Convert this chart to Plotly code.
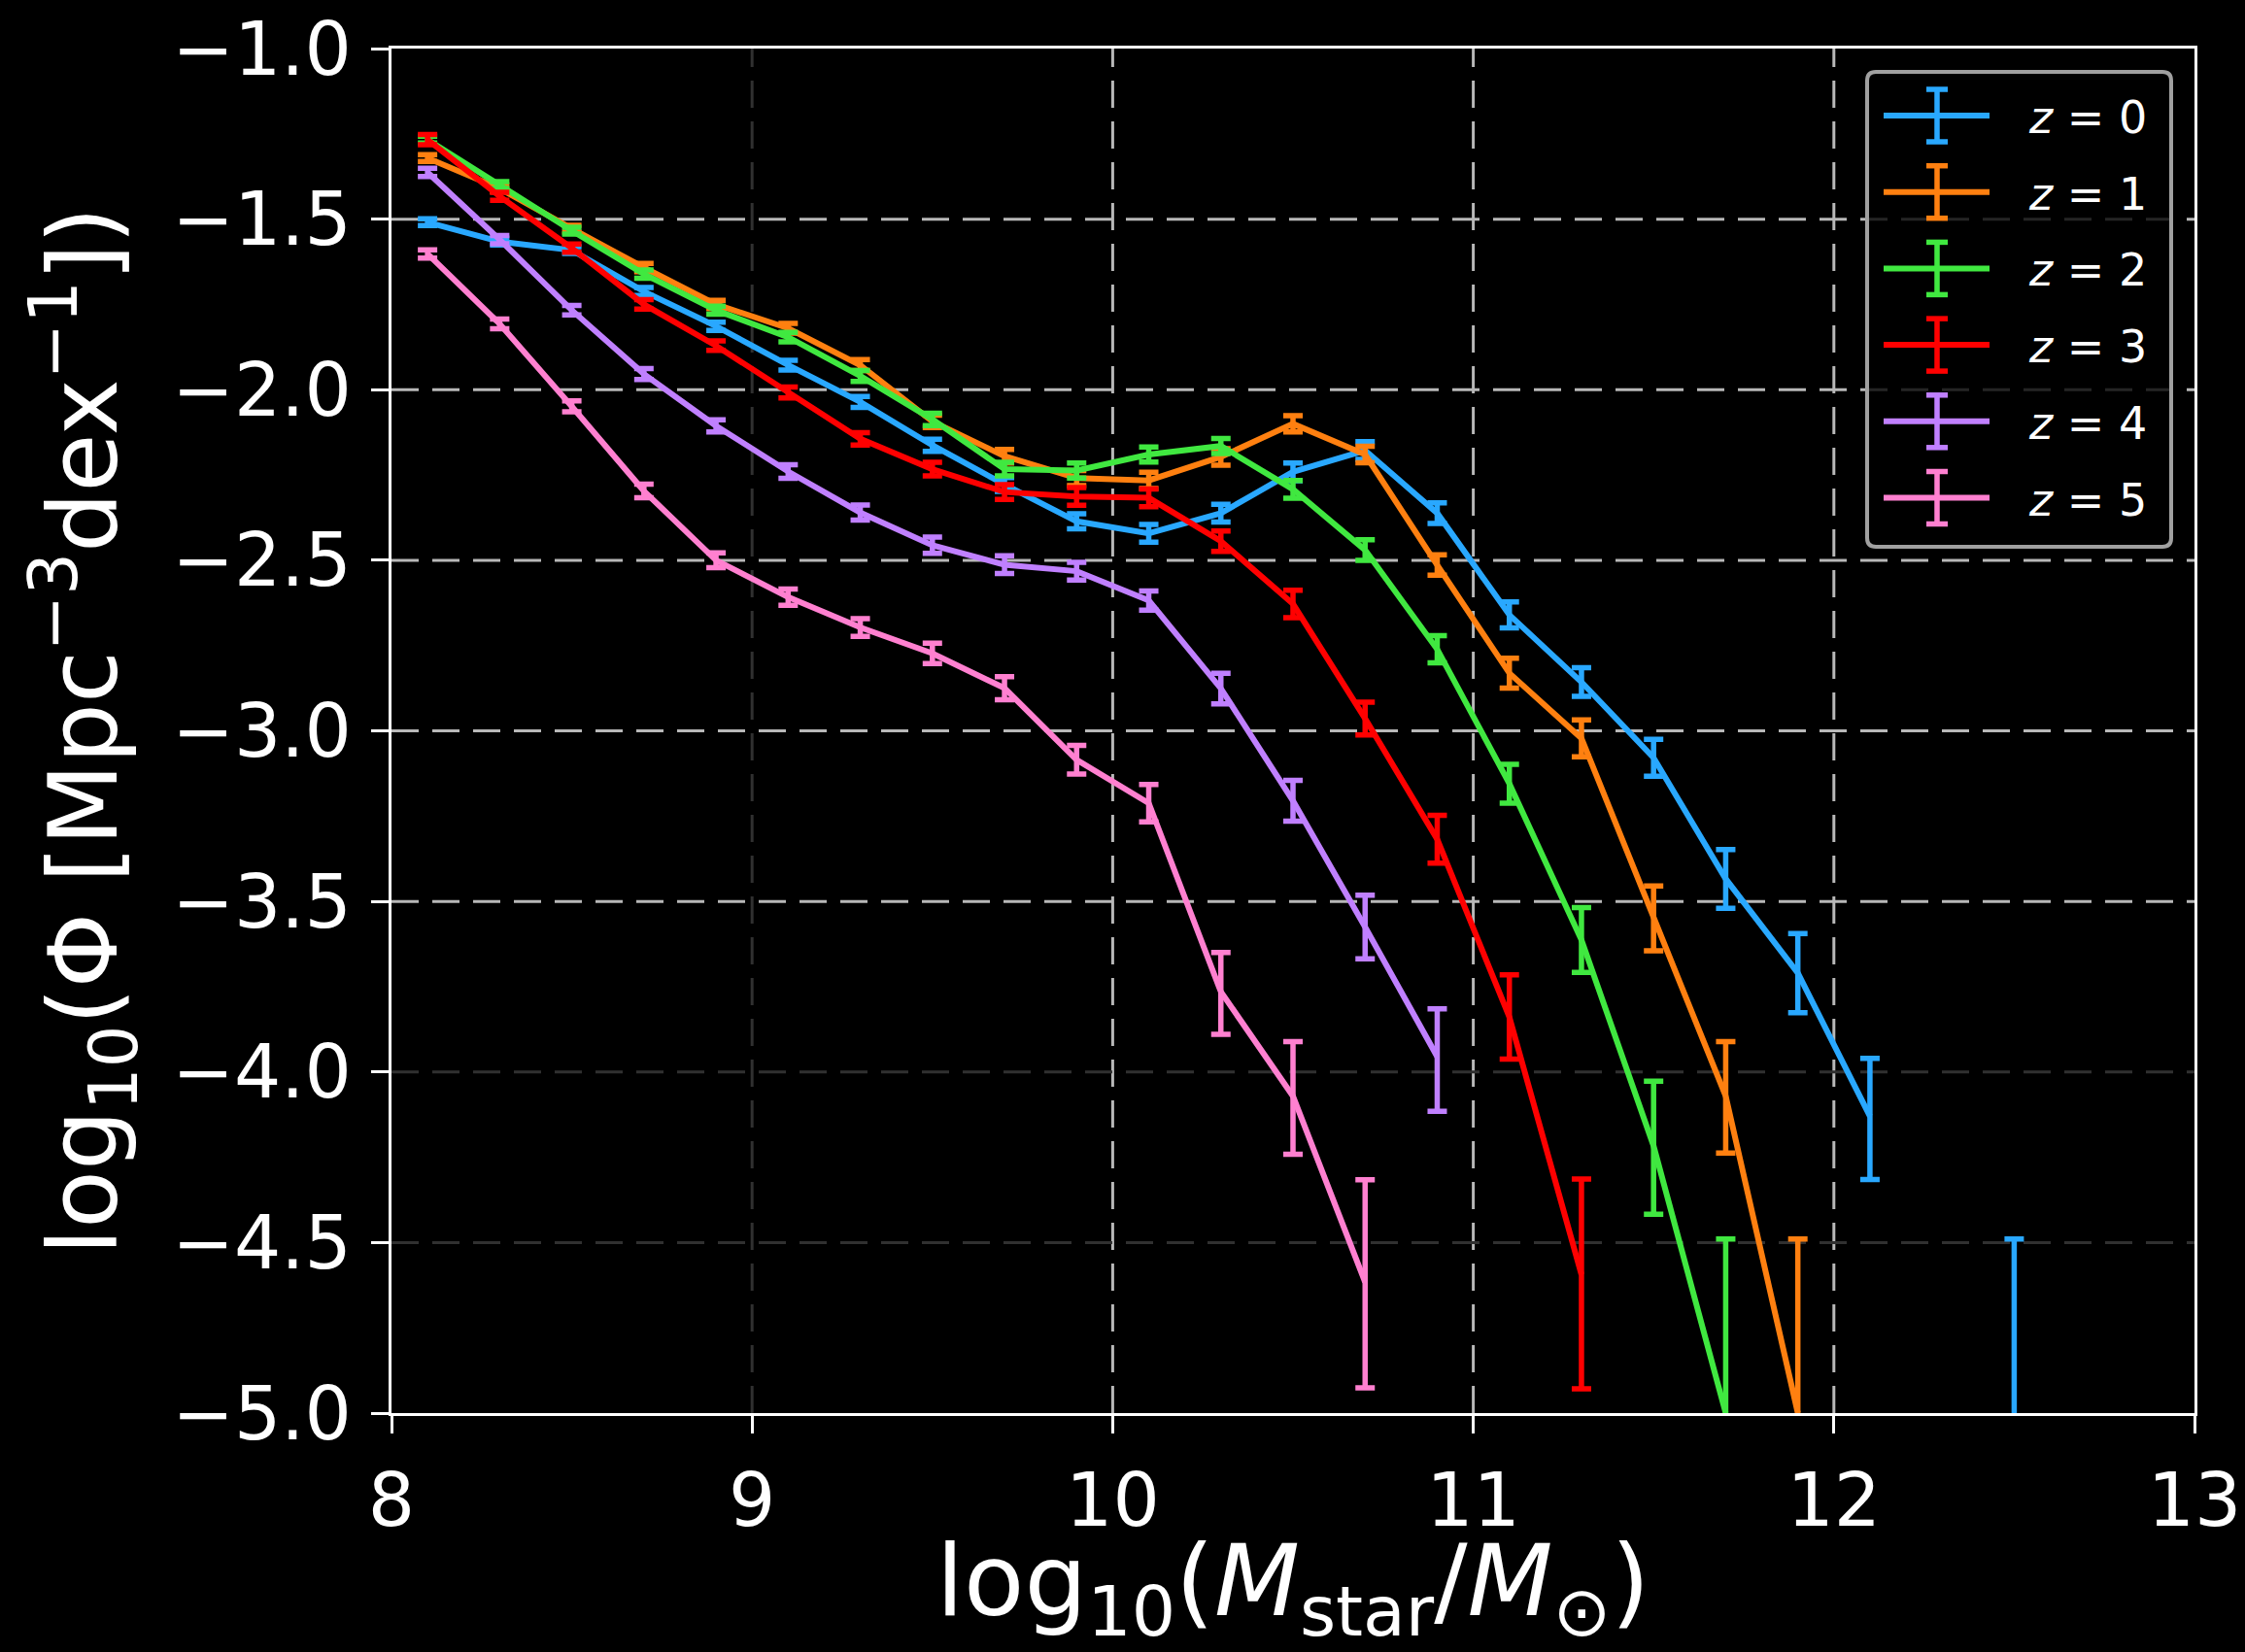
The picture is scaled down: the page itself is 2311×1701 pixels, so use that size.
import plotly.graph_objects as go

# ---------------- data ----------------
log_mstar = [8.1, 8.3, 8.5, 8.7, 8.9, 9.1, 9.3, 9.5, 9.7, 9.9, 10.1, 10.3,
             10.5, 10.7, 10.9, 11.1, 11.3, 11.5, 11.7, 11.9, 12.1, 12.3, 12.5]

redshift_labels = ["0", "1", "2", "3", "4", "5"]

phi_z0 = [-1.509, -1.566, -1.591, -1.712, -1.814, -1.928, -2.036, -2.163, -2.278,
          -2.386, -2.421, -2.362, -2.241, -2.178, -2.362, -2.660, -2.857, -3.079,
          -3.434, -3.710, -4.130, None, -5.0]
phi_z1 = [-1.321, -1.410, -1.528, -1.642, -1.750, -1.820, -1.928, -2.093, -2.195,
          -2.259, -2.266, -2.197, -2.100, -2.190, -2.514, -2.831, -3.022, -3.550,
          -4.071, -5.0]
phi_z2 = [-1.267, -1.400, -1.534, -1.661, -1.767, -1.846, -1.960, -2.087, -2.233,
          -2.237, -2.190, -2.165, -2.292, -2.470, -2.761, -3.155, -3.613, -4.217,
          -5.0]
phi_z3 = [-1.267, -1.433, -1.585, -1.750, -1.871, -2.008, -2.144, -2.233, -2.300,
          -2.313, -2.317, -2.444, -2.628, -2.964, -3.318, -3.839, -4.594]
phi_z4 = [-1.363, -1.560, -1.767, -1.954, -2.106, -2.240, -2.360, -2.456, -2.513,
          -2.532, -2.618, -2.876, -3.205, -3.575, -3.955]
phi_z5 = [-1.602, -1.807, -2.049, -2.297, -2.500, -2.608, -2.697, -2.773, -2.875,
          -3.085, -3.212, -3.765, -4.071, -4.616]

# upper / lower uncertainties in dex
err_up_z0 = [0.010, 0.010, 0.010, 0.012, 0.012, 0.014, 0.016, 0.018, 0.020, 0.022,
             0.026, 0.026, 0.026, 0.026, 0.030, 0.038, 0.042, 0.054, 0.086, 0.116,
             0.170, 0.0, 0.51]
err_lo_z0 = [0.010, 0.010, 0.010, 0.012, 0.012, 0.014, 0.016, 0.018, 0.020, 0.022,
             0.026, 0.026, 0.026, 0.026, 0.030, 0.038, 0.042, 0.054, 0.086, 0.116,
             0.185, 0.0, 0.5]
err_up_z1 = [0.010, 0.010, 0.010, 0.012, 0.012, 0.014, 0.016, 0.018, 0.020, 0.022,
             0.024, 0.024, 0.024, 0.024, 0.030, 0.044, 0.054, 0.095, 0.160, 0.51]
err_lo_z1 = [0.010, 0.010, 0.010, 0.012, 0.012, 0.014, 0.016, 0.018, 0.020, 0.022,
             0.024, 0.024, 0.024, 0.024, 0.030, 0.044, 0.054, 0.095, 0.167, 0.5]
err_up_z2 = [0.010, 0.010, 0.010, 0.012, 0.012, 0.014, 0.016, 0.018, 0.020, 0.022,
             0.022, 0.022, 0.026, 0.030, 0.040, 0.057, 0.095, 0.190, 0.51]
err_lo_z2 = [0.010, 0.010, 0.010, 0.012, 0.012, 0.014, 0.016, 0.018, 0.020, 0.022,
             0.022, 0.022, 0.026, 0.030, 0.040, 0.057, 0.095, 0.200, 0.5]
err_up_z3 = [0.015, 0.012, 0.012, 0.014, 0.014, 0.016, 0.018, 0.020, 0.022, 0.026,
             0.026, 0.030, 0.040, 0.048, 0.070, 0.124, 0.280]
err_lo_z3 = [0.015, 0.012, 0.012, 0.014, 0.014, 0.016, 0.018, 0.020, 0.022, 0.026,
             0.026, 0.030, 0.040, 0.048, 0.070, 0.123, 0.335]
err_up_z4 = [0.012, 0.012, 0.014, 0.016, 0.018, 0.020, 0.022, 0.024, 0.026, 0.026,
             0.028, 0.045, 0.060, 0.093, 0.140]
err_lo_z4 = [0.012, 0.012, 0.014, 0.016, 0.018, 0.020, 0.022, 0.024, 0.026, 0.026,
             0.028, 0.045, 0.060, 0.093, 0.160]
err_up_z5 = [0.012, 0.014, 0.016, 0.020, 0.022, 0.024, 0.026, 0.030, 0.034, 0.042,
             0.055, 0.115, 0.160, 0.300]
err_lo_z5 = [0.012, 0.014, 0.016, 0.020, 0.022, 0.024, 0.026, 0.030, 0.034, 0.042,
             0.055, 0.125, 0.170, 0.310]

series_phi = [phi_z0, phi_z1, phi_z2, phi_z3, phi_z4, phi_z5]
series_err_up = [err_up_z0, err_up_z1, err_up_z2, err_up_z3, err_up_z4, err_up_z5]
series_err_lo = [err_lo_z0, err_lo_z1, err_lo_z2, err_lo_z3, err_lo_z4, err_lo_z5]
series_colors = ["#29a8ff", "#ff8010", "#40e840", "#ff0000", "#c080ff", "#ff80d0"]

x_tick_vals = [8, 9, 10, 11, 12, 13]
x_tick_text = ["8", "9", "10", "11", "12", "13"]
y_tick_vals = [-1.0, -1.5, -2.0, -2.5, -3.0, -3.5, -4.0, -4.5, -5.0]
y_tick_text = ["\u22121.0", "\u22121.5", "\u22122.0", "\u22122.5", "\u22123.0",
               "\u22123.5", "\u22124.0", "\u22124.5", "\u22125.0"]

# interior grid lines and their shade
x_grid_vals = [9, 10, 11, 12]
x_grid_shade = ["dark", "light", "light", "light"]
y_grid_vals = [-1.5, -2.0, -2.5, -3.0, -3.5, -4.0, -4.5]
y_grid_shade = ["light", "light", "light", "light", "light", "dark", "dark"]

# ---------------- geometry / style ----------------
W, H = 2311, 1701
ML, MR, MT, MB = 403, 52, 50, 246
FONT = "DejaVu Sans"
GRID_COLORS = {"light": "#b8b8b8", "dark": "#303030"}
GRID_DASH = "28px,14px"
LINE_W = 6
ERR_W = 5.5
CAP = 10


def paper_x(px):
    return (px - ML) / (W - ML - MR)


def paper_y(py):
    return (H - MB - py) / (H - MT - MB)


fig = go.Figure()

for label, phi, eu, el, col in zip(redshift_labels, series_phi, series_err_up,
                                   series_err_lo, series_colors):
    fig.add_trace(go.Scatter(
        x=log_mstar[:len(phi)],
        y=phi,
        mode="lines",
        name="z = " + label,
        line=dict(color=col, width=LINE_W),
        error_y=dict(type="data", symmetric=False, array=eu, arrayminus=el,
                     color=col, thickness=ERR_W, width=CAP),
        connectgaps=False,
        showlegend=False,
    ))

shapes = []
# grid lines
for v, s in zip(x_grid_vals, x_grid_shade):
    shapes.append(dict(type="line", xref="x", yref="paper", x0=v, x1=v, y0=0, y1=1,
                       line=dict(color=GRID_COLORS[s], width=3, dash=GRID_DASH),
                       layer="below"))
for v, s in zip(y_grid_vals, y_grid_shade):
    shapes.append(dict(type="line", xref="paper", yref="y", x0=0, x1=1, y0=v, y1=v,
                       line=dict(color=GRID_COLORS[s], width=3, dash=GRID_DASH),
                       layer="below"))

# legend frame (rounded rectangle)
bx0, bx1, by0, by1, r = 1922, 2235, 74, 563, 9
X = lambda p: f"{paper_x(p):.5f}"
Y = lambda p: f"{paper_y(p):.5f}"
path = (f"M {X(bx0 + r)},{Y(by0)} L {X(bx1 - r)},{Y(by0)} "
        f"Q {X(bx1)},{Y(by0)} {X(bx1)},{Y(by0 + r)} "
        f"L {X(bx1)},{Y(by1 - r)} Q {X(bx1)},{Y(by1)} {X(bx1 - r)},{Y(by1)} "
        f"L {X(bx0 + r)},{Y(by1)} Q {X(bx0)},{Y(by1)} {X(bx0)},{Y(by1 - r)} "
        f"L {X(bx0)},{Y(by0 + r)} Q {X(bx0)},{Y(by0)} {X(bx0 + r)},{Y(by0)} Z")
shapes.append(dict(type="path", xref="paper", yref="paper", path=path,
                   fillcolor="rgba(0,0,0,0.8)",
                   line=dict(color="#a0a0a0", width=4), layer="above"))

annotations = []
row_y0, row_dy = 119, 78.7
hx0, hx1, hxc = 1939, 2048, 1994
for i, (label, col) in enumerate(zip(redshift_labels, series_colors)):
    cy = row_y0 + i * row_dy
    shapes.append(dict(type="line", xref="paper", yref="paper",
                       x0=paper_x(hx0), x1=paper_x(hx1), y0=paper_y(cy), y1=paper_y(cy),
                       line=dict(color=col, width=LINE_W), layer="above"))
    shapes.append(dict(type="line", xref="paper", yref="paper",
                       x0=paper_x(hxc), x1=paper_x(hxc),
                       y0=paper_y(cy - 27), y1=paper_y(cy + 27),
                       line=dict(color=col, width=ERR_W), layer="above"))
    for dy in (-27, 27):
        shapes.append(dict(type="line", xref="paper", yref="paper",
                           x0=paper_x(hxc - 11), x1=paper_x(hxc + 11),
                           y0=paper_y(cy + dy), y1=paper_y(cy + dy),
                           line=dict(color=col, width=ERR_W), layer="above"))
    annotations.append(dict(xref="paper", yref="paper", x=paper_x(2086),
                            y=paper_y(cy + 2), xanchor="left", yanchor="middle",
                            text="<i>z</i> = " + label, showarrow=False,
                            font=dict(family=FONT, size=46, color="white")))

axis_common = dict(
    showgrid=False, zeroline=False, showline=True, linecolor="white", linewidth=3,
    mirror=True, ticks="outside", ticklen=18, tickwidth=3, tickcolor="white",
    tickfont=dict(family=FONT, size=76, color="white"),
)

fig.update_layout(
    width=W, height=H,
    margin=dict(l=ML, r=MR, t=MT, b=MB, autoexpand=False),
    paper_bgcolor="black", plot_bgcolor="black",
    font=dict(family=FONT, color="white"),
    shapes=shapes, annotations=annotations,
    xaxis=dict(range=[8, 13], tickmode="array", tickvals=x_tick_vals,
               ticktext=x_tick_text, ticklabelstandoff=4,
               title=dict(text="log<sub>10</sub>(<i>M</i><sub>star</sub>/<i>M</i><sub>\u2299</sub>)",
                          font=dict(family=FONT, size=102, color="white"),
                          standoff=40),
               **axis_common),
    yaxis=dict(range=[-5, -1], tickmode="array", tickvals=y_tick_vals,
               ticktext=y_tick_text, ticklabelstandoff=5,
               title=dict(text="log<sub>10</sub>(\u03a6 [Mpc<sup>\u22123</sup>dex<sup>\u22121</sup>])",
                          font=dict(family=FONT, size=98, color="white"),
                          standoff=24),
               **axis_common),
)

fig.write_html("out.html")
